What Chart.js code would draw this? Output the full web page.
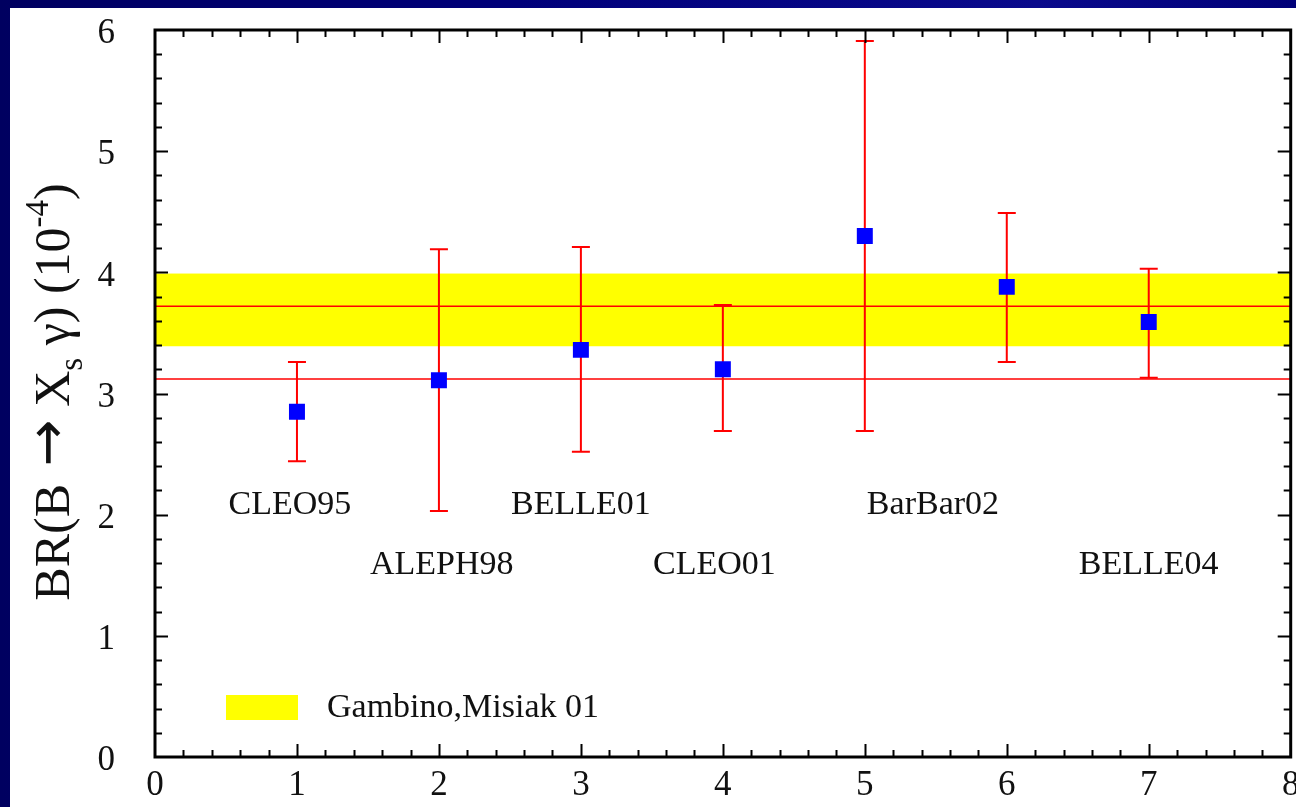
<!DOCTYPE html>
<html>
<head>
<meta charset="utf-8">
<script src="https://cdn.jsdelivr.net/npm/chart.js@4/dist/chart.umd.min.js"></script>
<style>
  html, body { margin: 0; padding: 0; }
  body {
    width: 1296px; height: 807px; overflow: hidden;
    background: linear-gradient(90deg, #000060 0%, #00007a 40%, #0a0a8c 80%, #000078 100%);
  }
  #panel {
    position: absolute; left: 10px; top: 8px;
    width: 1286px; height: 799px; background: #ffffff; overflow: hidden;
  }
</style>
</head>
<body>
<div id="panel"><canvas id="chart" width="1292" height="799"></canvas></div>
<script>
// measurements (BR in units of 1e-4)
const experiments = ["CLEO95", "ALEPH98", "BELLE01", "CLEO01", "BarBar02", "BELLE04"];
const pointX = [1, 2, 3, 4, 5, 6, 7];
const pointY = [2.85, 3.11, 3.36, 3.20, 4.30, 3.88, 3.59];
const errHigh = [3.26, 4.19, 4.21, 3.73, 5.91, 4.49, 4.03];
const errLow = [2.44, 2.03, 2.52, 2.69, 2.69, 3.26, 3.13];

// experiment name placement (data coords)
const labelX = [0.95, 2.02, 3.0, 3.94, 5.48, 7.0];
const labelY = [2.08, 1.58, 2.08, 1.58, 2.08, 1.58];

// theory band (Gambino, Misiak 01) and reference lines
const bandLow = 3.39;
const bandHigh = 3.99;
const bandCenter = 3.72;
const lowerLine = 3.12;
const legendText = "Gambino,Misiak 01";

// axes
const xMin = 0, xMax = 8;
const yMin = 0, yMax = 6;
const minorStep = 0.2;

const serif = "'Liberation Serif', 'DejaVu Serif', serif";

const bandPlugin = {
  id: "bandPlugin",
  beforeDatasetsDraw(chart) {
    const { ctx, chartArea, scales } = chart;
    const x = scales.x, y = scales.y;
    ctx.save();
    // yellow band
    ctx.fillStyle = "#ffff00";
    const yTop = y.getPixelForValue(bandHigh);
    const yBot = y.getPixelForValue(bandLow);
    ctx.fillRect(chartArea.left, yTop, chartArea.right - chartArea.left, yBot - yTop);
    // red horizontal lines
    ctx.strokeStyle = "#ff0000";
    ctx.lineWidth = 1.5;
    [bandCenter, lowerLine].forEach((v) => {
      const py = y.getPixelForValue(v);
      ctx.beginPath();
      ctx.moveTo(chartArea.left, py);
      ctx.lineTo(chartArea.right, py);
      ctx.stroke();
    });
    // error bars
    ctx.lineWidth = 2;
    pointX.forEach((vx, i) => {
      const px = x.getPixelForValue(vx);
      const pHi = y.getPixelForValue(errHigh[i]);
      const pLo = y.getPixelForValue(errLow[i]);
      ctx.beginPath();
      ctx.moveTo(px, pHi);
      ctx.lineTo(px, pLo);
      ctx.moveTo(px - 9, pHi);
      ctx.lineTo(px + 9, pHi);
      ctx.moveTo(px - 9, pLo);
      ctx.lineTo(px + 9, pLo);
      ctx.stroke();
    });
    ctx.restore();
  },
};

const framePlugin = {
  id: "framePlugin",
  afterDraw(chart) {
    const { ctx, chartArea, scales } = chart;
    const x = scales.x, y = scales.y;
    const { left, right, top, bottom } = chartArea;
    ctx.save();

    // frame
    ctx.strokeStyle = "#000000";
    ctx.lineWidth = 3;
    ctx.strokeRect(left, top, right - left, bottom - top);

    // inward ticks on all four sides
    ctx.lineWidth = 2;
    ctx.beginPath();
    const nx = Math.round((xMax - xMin) / minorStep);
    for (let k = 1; k < nx; k++) {
      const v = xMin + k * minorStep;
      const len = k % 5 === 0 ? 13 : 7;
      const px = Math.round(x.getPixelForValue(v)) + 0.5;
      ctx.moveTo(px, bottom);
      ctx.lineTo(px, bottom - len);
      ctx.moveTo(px, top);
      ctx.lineTo(px, top + len);
    }
    const ny = Math.round((yMax - yMin) / minorStep);
    for (let k = 1; k < ny; k++) {
      const v = yMin + k * minorStep;
      const len = k % 5 === 0 ? 13 : 7;
      const py = Math.round(y.getPixelForValue(v)) + 0.5;
      ctx.moveTo(left, py);
      ctx.lineTo(left + len, py);
      ctx.moveTo(right, py);
      ctx.lineTo(right - len, py);
    }
    ctx.stroke();

    // experiment names
    ctx.fillStyle = "#111111";
    ctx.font = "34px " + serif;
    ctx.textAlign = "center";
    ctx.textBaseline = "middle";
    experiments.forEach((name, i) => {
      ctx.fillText(name, x.getPixelForValue(labelX[i]), y.getPixelForValue(labelY[i]));
    });

    // legend box for the band
    ctx.fillStyle = "#ffff00";
    ctx.fillRect(left + 71, bottom - 62, 72, 25);
    ctx.fillStyle = "#111111";
    ctx.textAlign = "left";
    ctx.fillText(legendText, left + 172, bottom - 49);

    // y axis title, rotated
    const sans = "'DejaVu Sans', sans-serif";
    const segs = [
      { t: "BR(B", s: 50, dy: 0, f: serif },
      { t: " \u2192", s: 56, dy: -3, f: sans },
      { t: " X", s: 50, dy: 0, f: serif },
      { t: "s", s: 33, dy: 13, f: serif },
      { t: " \u03b3", s: 50, dy: 0, f: serif },
      { t: ") (10", s: 50, dy: 0, f: serif },
      { t: "-4", s: 33, dy: -21, f: serif },
      { t: ")", s: 50, dy: 0, f: serif },
    ];
    let total = 0;
    segs.forEach((sg) => {
      ctx.font = sg.s + "px " + sg.f;
      sg.w = ctx.measureText(sg.t).width;
      total += sg.w;
    });
    ctx.translate(59, 384);
    ctx.rotate(-Math.PI / 2);
    ctx.fillStyle = "#111111";
    ctx.textAlign = "left";
    ctx.textBaseline = "alphabetic";
    let cx = -total / 2;
    segs.forEach((sg) => {
      ctx.font = sg.s + "px " + sg.f;
      ctx.fillText(sg.t, cx, sg.dy);
      cx += sg.w;
    });
    ctx.restore();
  },
};

new Chart(document.getElementById("chart"), {
  type: "scatter",
  data: {
    datasets: [
      {
        label: "BR",
        data: pointX.map((vx, i) => ({ x: vx, y: pointY[i] })),
        pointStyle: "rect",
        pointRadius: 11.3,
        pointHoverRadius: 11.3,
        backgroundColor: "#0000ff",
        borderWidth: 0,
      },
    ],
  },
  options: {
    responsive: false,
    animation: false,
    layout: { padding: { top: 22, right: 0, left: 0, bottom: 0 } },
    plugins: {
      legend: { display: false },
      tooltip: { enabled: false },
    },
    scales: {
      x: {
        type: "linear",
        min: xMin,
        max: xMax,
        ticks: {
          stepSize: 1,
          color: "#111111",
          font: { family: serif, size: 35 },
          padding: 8,
          maxRotation: 0,
        },
        grid: { display: false, drawTicks: false },
        border: { display: false },
        afterFit: (scale) => {
          scale.height = 50;
          scale.paddingLeft = 0;
          scale.paddingRight = 0;
        },
      },
      y: {
        type: "linear",
        min: yMin,
        max: yMax,
        ticks: {
          stepSize: 1,
          color: "#111111",
          font: { family: serif, size: 35 },
          padding: 40,
          labelOffset: 4,
        },
        grid: { display: false, drawTicks: false },
        border: { display: false },
        afterFit: (scale) => {
          scale.width = 145;
          scale.paddingTop = 0;
          scale.paddingBottom = 0;
        },
      },
    },
  },
  plugins: [bandPlugin, framePlugin],
});
</script>
</body>
</html>
